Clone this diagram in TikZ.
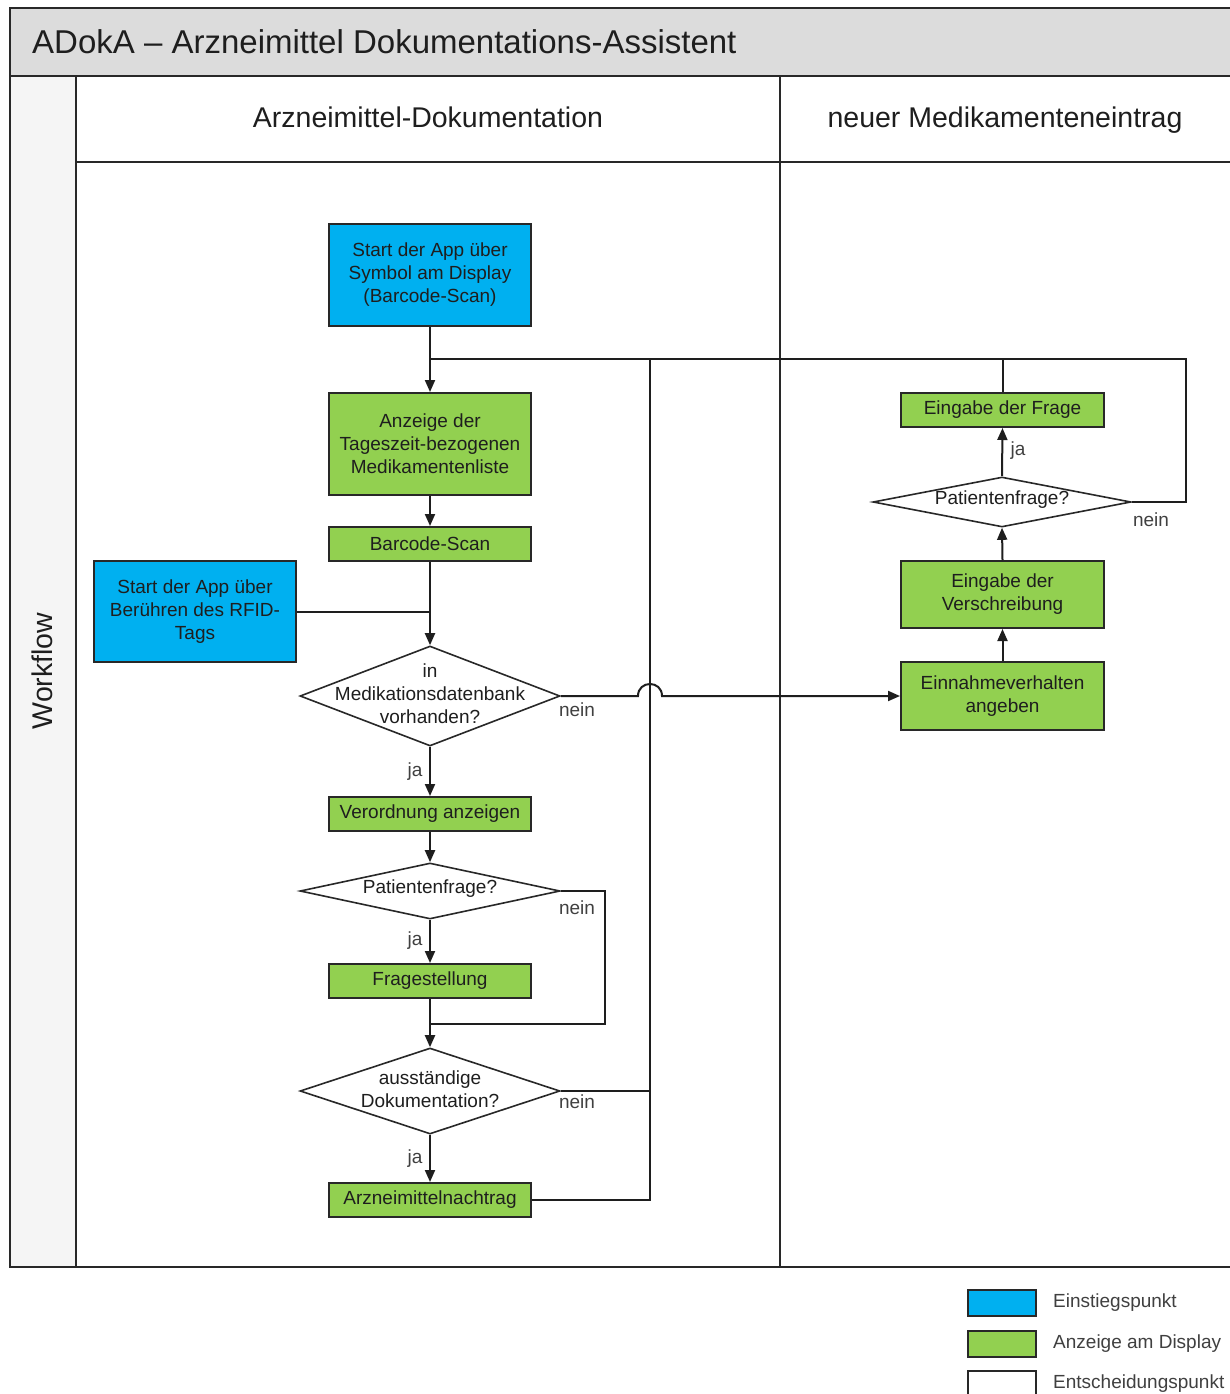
\documentclass[tikz,border=0pt]{standalone}
\usepackage{fontspec}
\setmainfont{Liberation Sans}
\usetikzlibrary{arrows.meta,shapes.geometric}

\definecolor{entry}{RGB}{0,176,240}
\definecolor{screen}{RGB}{146,208,80}
\definecolor{titlebar}{RGB}{220,220,220}
\definecolor{lanebar}{RGB}{245,245,245}
\definecolor{frameline}{RGB}{40,40,40}
\definecolor{ink}{RGB}{30,30,30}

\tikzset{
  boxtext/.style={font=\fontsize{19pt}{23pt}\selectfont, text=ink, align=center},
  entrybox/.style={draw=frameline, line width=2pt, fill=entry, rectangle,
    minimum width=202pt, inner sep=0pt, boxtext},
  screenbox/.style={draw=frameline, line width=2pt, fill=screen, rectangle,
    minimum width=202pt, inner sep=0pt, boxtext},
  decision/.style={draw=frameline, line width=1.6pt, fill=white, diamond,
    inner sep=0pt},
  conn/.style={draw=ink, line width=2pt},
  arr/.style={conn, -{Triangle[length=12pt,width=10pt]}},
  lbl/.style={font=\fontsize{19pt}{23pt}\selectfont, text=ink!85, inner sep=0pt},
  lanetitle/.style={font=\fontsize{28.5pt}{32pt}\selectfont, text=ink, inner sep=0pt},
  frame/.style={draw=frameline, line width=2.2pt},
  legendbox/.style={draw=frameline, line width=2pt, minimum width=68pt,
    minimum height=26pt, inner sep=0pt},
}

\begin{document}
\begin{tikzpicture}[x=1pt,y=-1pt]
\clip (0,0) rectangle (1230,1394);
\fill[white] (0,0) rectangle (1230,1394);

% swimlane frame
\fill[titlebar] (10,8) rectangle (1240,76);
\fill[lanebar] (10,76) rectangle (76,1267);
\draw[frame] (10,8) rectangle (1240,1267);
\draw[frame] (10,76) -- (1240,76);
\draw[frame] (76,76) -- (76,1267);
\draw[frame] (76,162) -- (1240,162);
\draw[frame] (780,76) -- (780,1267);

\node[anchor=west, font=\fontsize{33pt}{38pt}\selectfont, text=ink, inner sep=0pt]
  (title) at (32,42) {ADokA – Arzneimittel Dokumentations-Assistent};
\node[lanetitle, anchor=base] (lane1) at (428,128) {Arzneimittel-Dokumentation};
\node[lanetitle, anchor=base] (lane2) at (1005,128) {neuer Medikamenteneintrag};
\node[lanetitle, rotate=90] (wf) at (42,671) {Workflow};

% left lane
\node[entrybox, minimum height=102pt] (s1) at (430,275)
  {Start der App über\\Symbol am Display\\(Barcode-Scan)};
\node[screenbox, minimum height=102pt] (anz) at (430,444)
  {Anzeige der\\Tageszeit-bezogenen\\Medikamentenliste};
\node[screenbox, minimum height=34pt] (bar) at (430,544) {Barcode-Scan};
\node[entrybox, minimum height=101pt] (rfid) at (195,611.5)
  {Start der App über\\Berühren des RFID-\\Tags};
\node[decision, minimum width=260pt, minimum height=100pt] (d1) at (430,696) {};
\node[boxtext] (d1t) at (430,694) {in\\Medikationsdatenbank\\vorhanden?};
\node[screenbox, minimum height=34pt] (ver) at (430,814) {Verordnung anzeigen};
\node[decision, minimum width=260pt, minimum height=56pt] (d2) at (430,891) {};
\node[boxtext] (d2t) at (430,889) {Patientenfrage?};
\node[screenbox, minimum height=34pt] (fra) at (430,981) {Fragestellung};
\node[decision, minimum width=260pt, minimum height=86pt] (d3) at (430,1091) {};
\node[boxtext] (d3t) at (430,1089) {ausständige\\Dokumentation?};
\node[screenbox, minimum height=34pt] (nach) at (430,1200) {Arzneimittelnachtrag};

% right lane
\node[screenbox, minimum width=203pt, minimum height=34pt] (eing) at (1002.5,410) {Eingabe der Frage};
\node[decision, minimum width=258pt, minimum height=50pt] (d4) at (1002,502) {};
\node[boxtext] (d4t) at (1002,500) {Patientenfrage?};
\node[screenbox, minimum width=203pt, minimum height=67pt] (vers) at (1002.5,594.5)
  {Eingabe der\\Verschreibung};
\node[screenbox, minimum width=203pt, minimum height=68pt] (einn) at (1002.5,696)
  {Einnahmeverhalten\\angeben};

% connector routing points
\coordinate (jtop) at (430,359);
\coordinate (rtop) at (1186,359);
\coordinate (mid) at (650,359);
\coordinate (jlow) at (430,1024);
\coordinate (nrt) at (605,891);
\coordinate (hopL) at (638,696);
\coordinate (hopR) at (662,696);

% connectors
\draw[arr] (s1.south) -- (anz.north);
\draw[conn] (d4.east) -| (rtop) -- (jtop);
\draw[conn] (eing.north) -- (eing.north |- rtop);
\draw[conn] (nach.east) -| (mid);
\draw[conn] (d3.east) -- (d3.east -| mid);
\draw[arr] (anz.south) -- (bar.north);
\draw[arr] (bar.south) -- (d1.north);
\draw[conn] (rfid.east) -- (rfid.east -| bar.south);
\draw[arr] (d1.east) -- (hopL) .. controls (638,680) and (662,680) .. (hopR) -- (einn.west);
\draw[arr] (d1.south) -- (ver.north);
\draw[arr] (ver.south) -- (d2.north);
\draw[arr] (d2.south) -- (fra.north);
\draw[conn] (d2.east) -- (nrt) |- (jlow);
\draw[arr] (fra.south) -- (d3.north);
\draw[arr] (d3.south) -- (nach.north);
\draw[arr] (einn.north) -- (vers.south);
\draw[arr] (vers.north) -- (d4.south);
\draw[arr] (d4.north) -- (eing.south);

% branch labels
\node[lbl] (n1) at (577,710) {nein};
\node[lbl] (j1) at (415,772) {ja};
\node[lbl] (n2) at (577,908) {nein};
\node[lbl] (j2) at (415,941) {ja};
\node[lbl] (n3) at (577,1102) {nein};
\node[lbl] (j3) at (415,1159) {ja};
\node[lbl] (j4) at (1018,451) {ja};
\node[lbl] (n4) at (1151,520) {nein};

% legend
\node[legendbox, fill=entry] (lg1) at (1002,1303) {};
\node[legendbox, fill=screen] (lg2) at (1002,1344) {};
\node[legendbox, fill=white] (lg3) at (1002,1384) {};
\node[lbl, anchor=west] (lt1) at (1053,1303) {Einstiegspunkt};
\node[lbl, anchor=west] (lt2) at (1053,1344) {Anzeige am Display};
\node[lbl, anchor=west] (lt3) at (1053,1384) {Entscheidungspunkt};
\end{tikzpicture}
\end{document}
